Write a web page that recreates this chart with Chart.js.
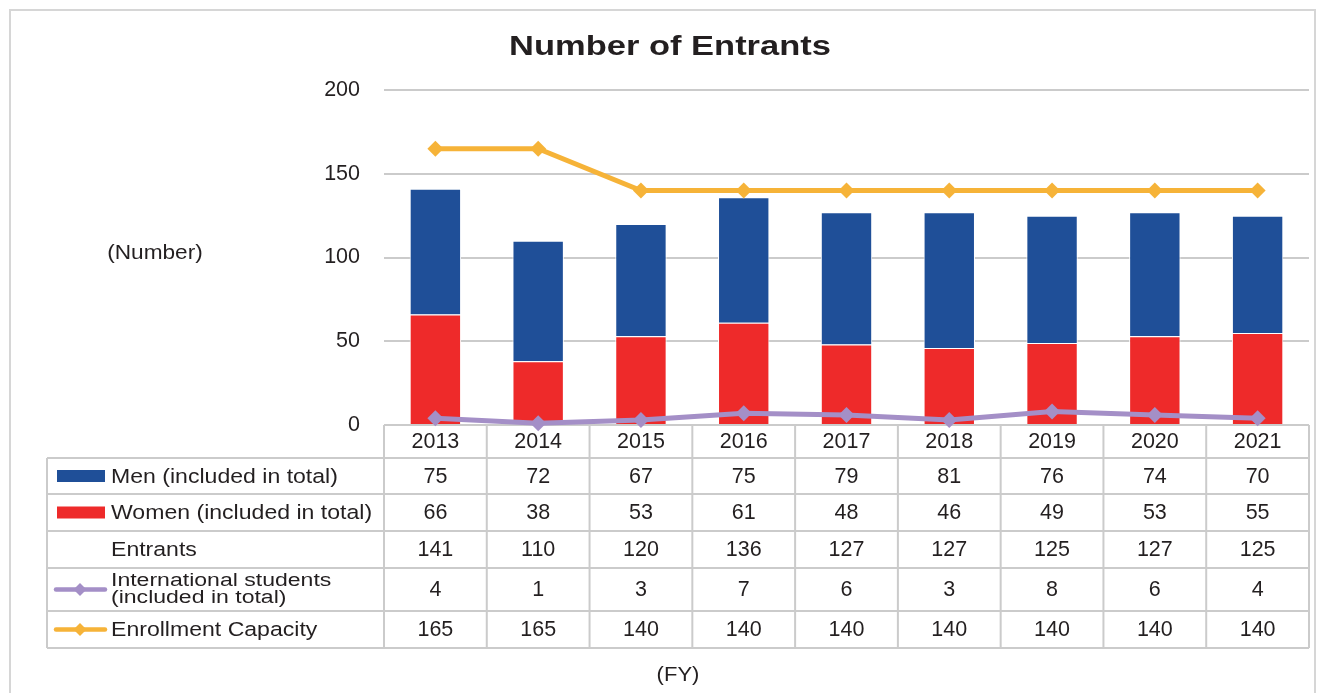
<!DOCTYPE html>
<html>
<head>
<meta charset="utf-8">
<title>Number of Entrants</title>
<script src="https://cdn.jsdelivr.net/npm/chart.js@4.4.0/dist/chart.umd.min.js"></script>
<style>
  html, body { margin: 0; padding: 0; background: #fff; }
  canvas { display: block; }
</style>
</head>
<body>
<canvas id="entrants" width="1317" height="693"></canvas>
<script>
const years = ["2013", "2014", "2015", "2016", "2017", "2018", "2019", "2020", "2021"];
const men = [75, 72, 67, 75, 79, 81, 76, 74, 70];
const women = [66, 38, 53, 61, 48, 46, 49, 53, 55];
const entrants = [141, 110, 120, 136, 127, 127, 125, 127, 125];
const international = [4, 1, 3, 7, 6, 3, 8, 6, 4];
const capacity = [165, 165, 140, 140, 140, 140, 140, 140, 140];
const yTicks = [0, 50, 100, 150, 200];

const BLUE = "#1f4f98";
const RED = "#ee2a2a";
const PURPLE = "#a48fc7";
const ORANGE = "#f6b338";
const TEXT = "#231f20";
const RULE = "#cbcbcb";
const FONT = "'Liberation Sans', Arial, sans-serif";

// rows of the data table under the plot
const tableRows = [
  { label: ["Men (included in total)"], values: men, swatch: "bar", color: BLUE },
  { label: ["Women (included in total)"], values: women, swatch: "bar", color: RED },
  { label: ["Entrants"], values: entrants },
  { label: ["International students", "(included in total)"], values: international, swatch: "line", color: PURPLE },
  { label: ["Enrollment Capacity"], values: capacity, swatch: "line", color: ORANGE },
];
const rowEdges = [458, 494, 531, 568, 611, 648];
const tableLeft = 47;

function stretchText(ctx, text, x, y, font, sx, align) {
  ctx.save();
  ctx.font = font;
  ctx.fillStyle = TEXT;
  ctx.textBaseline = "middle";
  ctx.textAlign = align || "center";
  ctx.translate(x, y);
  ctx.scale(sx, 1);
  ctx.fillText(text, 0, 0);
  ctx.restore();
}

function diamond(ctx, x, y, r, color) {
  ctx.beginPath();
  ctx.moveTo(x - r, y);
  ctx.lineTo(x, y - r);
  ctx.lineTo(x + r, y);
  ctx.lineTo(x, y + r);
  ctx.closePath();
  ctx.fillStyle = color;
  ctx.fill();
}

const frame = {
  id: "frame",
  beforeDraw(chart) {
    const ctx = chart.ctx;
    ctx.save();
    ctx.fillStyle = "#fff";
    ctx.fillRect(0, 0, chart.width, chart.height);
    ctx.strokeStyle = "#d6d6d6";
    ctx.lineWidth = 2;
    ctx.strokeRect(10, 10, chart.width - 12, chart.height);
    ctx.restore();

    stretchText(ctx, "Number of Entrants", 670, 47, "bold 28.5px " + FONT, 1.21);
    stretchText(ctx, "(Number)", 155, 254, "19.5px " + FONT, 1.16);
    stretchText(ctx, "(FY)", 678, 675, "20px " + FONT, 1.1);
  },
};

const dataTable = {
  id: "dataTable",
  beforeDatasetsDraw(chart) {
    const ctx = chart.ctx;
    const area = chart.chartArea;
    const x = chart.scales.x;
    const colW = (area.right - area.left) / years.length;
    const top = area.bottom;
    const bottom = rowEdges[rowEdges.length - 1];

    ctx.save();
    ctx.strokeStyle = RULE;
    ctx.lineWidth = 2;
    ctx.beginPath();
    ctx.moveTo(area.left, top);
    ctx.lineTo(area.right, top);
    rowEdges.forEach((y) => {
      ctx.moveTo(tableLeft, y);
      ctx.lineTo(area.right, y);
    });
    ctx.moveTo(tableLeft, rowEdges[0]);
    ctx.lineTo(tableLeft, bottom);
    for (let i = 0; i <= years.length; i++) {
      const cx = area.left + i * colW;
      ctx.moveTo(cx, top);
      ctx.lineTo(cx, bottom);
    }
    ctx.stroke();
    ctx.restore();

    const numFont = "21.5px " + FONT;
    years.forEach((yr, i) => {
      stretchText(ctx, yr, x.getPixelForValue(i), (top + rowEdges[0]) / 2 + 1, numFont, 1);
    });

    tableRows.forEach((row, r) => {
      const y0 = rowEdges[r];
      const y1 = rowEdges[r + 1];
      const cy = (y0 + y1) / 2 + 1;

      if (row.swatch === "bar") {
        ctx.fillStyle = row.color;
        ctx.fillRect(57, cy - 7, 48, 12);
      } else if (row.swatch === "line") {
        ctx.save();
        ctx.strokeStyle = row.color;
        ctx.lineWidth = 4.5;
        ctx.lineCap = "round";
        ctx.beginPath();
        ctx.moveTo(56, cy - 1);
        ctx.lineTo(105, cy - 1);
        ctx.stroke();
        ctx.restore();
        diamond(ctx, 80, cy - 1, 6.5, row.color);
      }

      if (row.label.length === 1) {
        stretchText(ctx, row.label[0], 111, cy, "20.5px " + FONT, 1.125, "left");
      } else {
        stretchText(ctx, row.label[0], 111, cy - 9, "18px " + FONT, 1.28, "left");
        stretchText(ctx, row.label[1], 111, cy + 8, "18px " + FONT, 1.28, "left");
      }

      row.values.forEach((v, i) => {
        stretchText(ctx, String(v), x.getPixelForValue(i), cy, numFont, 1);
      });
    });
  },
};

new Chart(document.getElementById("entrants"), {
  data: {
    labels: years,
    datasets: [
      {
        type: "line",
        label: "International students (included in total)",
        data: international,
        stack: "international",
        borderColor: PURPLE,
        backgroundColor: PURPLE,
        borderWidth: 5,
        pointStyle: "rectRot",
        pointRadius: 8,
        pointBorderWidth: 0,
        tension: 0,
        clip: false,
        order: 0,
      },
      {
        type: "line",
        label: "Enrollment Capacity",
        data: capacity,
        stack: "capacity",
        borderColor: ORANGE,
        backgroundColor: ORANGE,
        borderWidth: 5,
        pointStyle: "rectRot",
        pointRadius: 8,
        pointBorderWidth: 0,
        tension: 0,
        clip: false,
        order: 0,
      },
      {
        type: "bar",
        label: "Women (included in total)",
        data: women,
        stack: "total",
        backgroundColor: RED,
        borderColor: "#fff",
        borderWidth: 1,
        barPercentage: 0.5,
        categoryPercentage: 1,
        order: 1,
      },
      {
        type: "bar",
        label: "Men (included in total)",
        data: men,
        stack: "total",
        backgroundColor: BLUE,
        borderColor: "#fff",
        borderWidth: 1,
        barPercentage: 0.5,
        categoryPercentage: 1,
        order: 1,
      },
    ],
  },
  options: {
    responsive: false,
    animation: false,
    devicePixelRatio: 1,
    layout: { padding: { top: 90, right: 8, left: 0, bottom: 0 } },
    plugins: {
      legend: { display: false },
      tooltip: { enabled: false },
      title: { display: false },
    },
    scales: {
      x: {
        stacked: true,
        grid: { display: false },
        border: { display: false },
        ticks: { display: false },
        afterFit: (scale) => { scale.height = 268; },
      },
      y: {
        stacked: true,
        min: 0,
        max: 200,
        afterBuildTicks: (scale) => { scale.ticks = yTicks.map((v) => ({ value: v })); },
        afterFit: (scale) => { scale.width = 384; },
        grid: { color: RULE, lineWidth: 2, drawTicks: false },
        border: { display: false },
        ticks: {
          padding: 24,
          color: TEXT,
          font: { family: FONT, size: 21.5 },
        },
      },
    },
  },
  plugins: [frame, dataTable],
});
</script>
</body>
</html>
